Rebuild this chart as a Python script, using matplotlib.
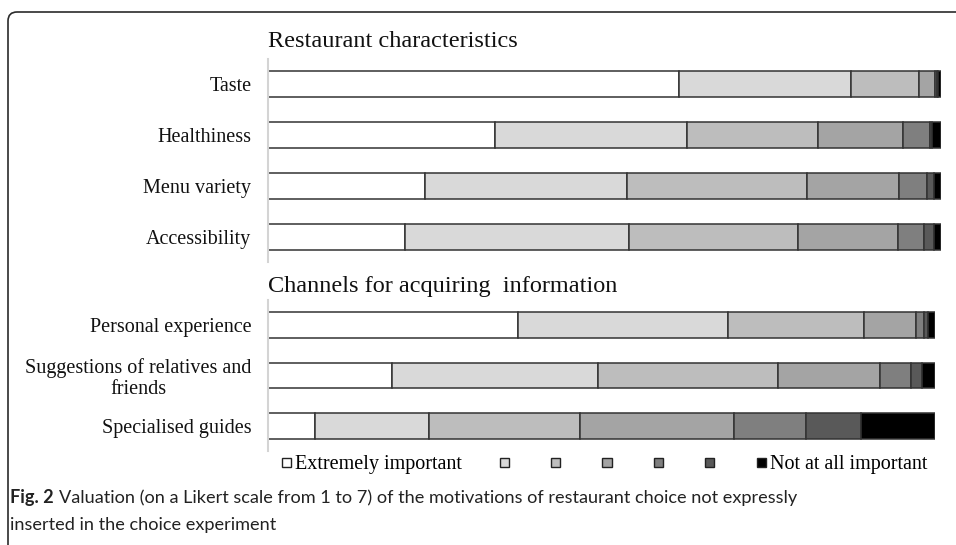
import matplotlib
matplotlib.use("Agg")
import matplotlib.pyplot as plt
from matplotlib.patches import Rectangle, FancyBboxPatch
from matplotlib.transforms import IdentityTransform
import numpy as np

# share (%) of respondents for each Likert level, 1 = extremely important ... 7 = not at all
restaurant_items = ["Taste", "Healthiness", "Menu variety", "Accessibility"]
restaurant_vals = [
    [61.0, 25.6, 10.2, 2.3, 0.3, 0.2, 0.4],
    [33.8, 28.5, 19.4, 12.7, 3.9, 0.4, 1.3],
    [23.4, 29.9, 26.8, 13.6, 4.2, 1.1, 1.0],
    [20.3, 33.4, 25.1, 14.8, 3.8, 1.5, 1.1],
]
channel_items = ["Personal experience", "Suggestions of relatives and\nfriends", "Specialised guides"]
channel_vals = [
    [37.5, 31.4, 20.5, 7.7, 1.25, 0.65, 1.0],
    [18.6, 30.9, 26.9, 15.4, 4.6, 1.7, 1.9],
    [7.0, 17.1, 22.7, 23.1, 10.8, 8.2, 11.1],
]
legend_labels = ["Extremely important", "", "", "", "", "", "Not at all important"]
level_colors = ["#ffffff", "#d9d9d9", "#bdbdbd", "#a4a4a4", "#7f7f7f", "#595959", "#000000"]

W, H = 956, 545
serif = "Liberation Serif"
edge = "#333333"

fig = plt.figure(figsize=(W / 100, H / 100), dpi=100)


def stacked(ax, items, vals, title, pad):
    vals = np.array(vals)
    y = np.arange(len(items))
    left = np.zeros(len(items))
    for k in range(vals.shape[1]):
        ax.barh(y, vals[:, k], left=left, height=0.51, color=level_colors[k],
                edgecolor=edge, linewidth=1.1, zorder=1)
        left += vals[:, k]
    ax.set_xlim(0, 100)
    ax.set_ylim(len(items) - 0.5, -0.5)
    ax.set_yticks(y)
    ax.set_yticklabels(items, fontfamily=serif, fontsize=14.5, multialignment="center",
                       linespacing=1.1, color="#111")
    ax.set_xticks([])
    ax.tick_params(axis="y", length=0, pad=12)
    for s in ["top", "right", "bottom"]:
        ax.spines[s].set_visible(False)
    ax.spines["left"].set_color("#d4d4d4")
    ax.spines["left"].set_linewidth(1.5)
    ax.spines["left"].set_zorder(3)
    ax.set_title(title, loc="left", fontfamily=serif, fontsize=17.5, pad=pad, color="#111")


ax1 = fig.add_axes([268 / W, 1 - 262 / H, 673 / W, 203 / H])
stacked(ax1, restaurant_items, restaurant_vals, "Restaurant characteristics", 9)

ax2 = fig.add_axes([268 / W, 1 - 451 / H, 667 / W, 151 / H])
stacked(ax2, channel_items, channel_vals, "Channels for acquiring  information", 6)

handles = [Rectangle((0, 0), 1, 1, facecolor=c, edgecolor="#222", linewidth=1.0) for c in level_colors]
fig.legend(handles, legend_labels, ncol=7, loc="center left",
           bbox_to_anchor=(281.5 / W, 1 - 465 / H), frameon=False,
           handlelength=0.45, handleheight=0.3, handletextpad=0.2,
           columnspacing=1.9, borderaxespad=0, borderpad=0,
           prop={"family": serif, "size": 14.5})

# rounded frame of the journal figure box
frame = FancyBboxPatch((8, -60), 1100, H - 12 + 60, boxstyle="round,pad=0,rounding_size=9",
                       transform=IdentityTransform(), facecolor="none",
                       edgecolor="#2b2b2b", linewidth=1.2)
fig.add_artist(frame)

# caption
cap_font = "Lato"
cap_size = 13.1
t_bold = fig.text(10 / W, 1 - 498 / H, "Fig. 2", fontfamily=cap_font, fontweight="bold",
                  fontsize=cap_size, va="center", color="#222")
t_rest = fig.text(10 / W, 1 - 498 / H,
                  "Valuation (on a Likert scale from 1 to 7) of the motivations of restaurant choice not expressly",
                  fontfamily=cap_font, fontsize=cap_size, va="center", color="#222")
fig.text(10 / W, 1 - 525 / H, "inserted in the choice experiment",
         fontfamily=cap_font, fontsize=cap_size, va="center", color="#222")
fig.canvas.draw()
bb = t_bold.get_window_extent(fig.canvas.get_renderer())
t_rest.set_x((bb.x1 + 5) / W)

fig.savefig("out.png", dpi=100)
